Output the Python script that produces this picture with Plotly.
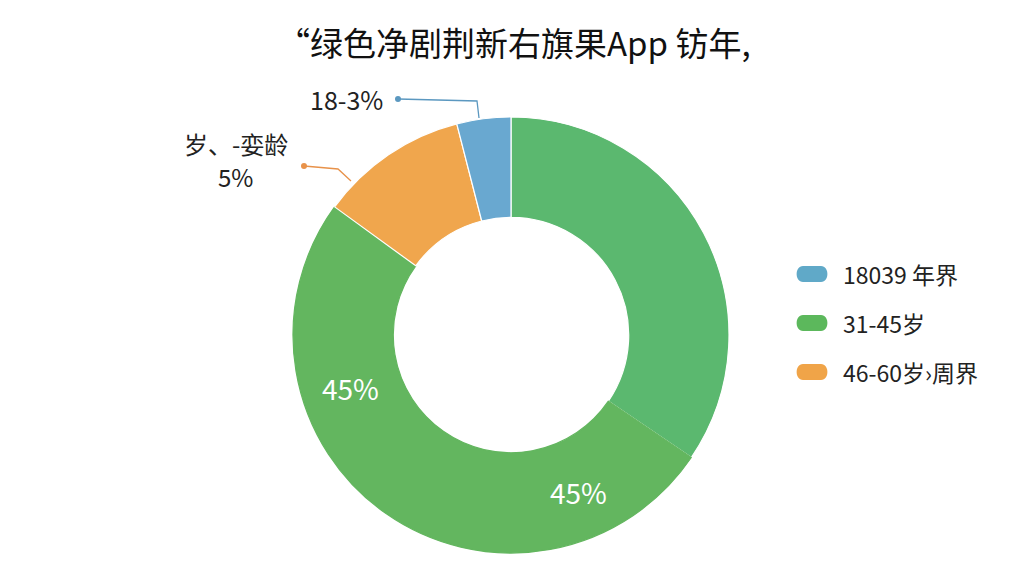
import plotly.graph_objects as go

# ---- data ----
slice_names = ["31-45岁 (A)", "31-45岁 (B)", "46-60岁›周界", "18039 年界"]
slice_values = [34.5, 50.5, 11.0, 4.0]
slice_colors = ["#5bb86f", "#63b65f", "#f0a64d", "#69a8d0"]
slice_line_colors = ["white", "#63b65f", "white", "white"]
slice_labels = ["45%", "45%", "岁、-娈龄", "5%", "18-3%"]

legend_names = ["18039 年界", "31-45岁", "46-60岁›周界"]
legend_colors = ["#60a9c8", "#5cb85c", "#f0a448"]

title_text = "“绿色净剧荆新右旗果App 钫年,"

W, H = 1024, 576
OFF = 8  # page body margin in the browser
FONT = "Noto Sans CJK SC, Noto Sans, sans-serif"

cx, cy, R = 511 - OFF, 335 - OFF, 218

fig = go.Figure()
fig.add_trace(go.Pie(
    values=slice_values,
    labels=slice_names,
    marker=dict(colors=slice_colors, line=dict(color=slice_line_colors, width=1.2)),
    hole=0.54,
    sort=False,
    direction="clockwise",
    rotation=0,
    textinfo="none",
    showlegend=False,
    domain=dict(x=[(cx - 260) / W, (cx + 260) / W],
                y=[1 - (cy + R) / H, 1 - (cy - R) / H]),
))

# hidden pixel axes for decorations (in screenshot pixel coordinates)
fig.update_layout(
    xaxis=dict(range=[OFF, W + OFF], visible=False, domain=[0, 1], fixedrange=True),
    yaxis=dict(range=[H + OFF, OFF], visible=False, domain=[0, 1], fixedrange=True),
)

shapes = []
annotations = []


def txt(x, y, text, size, color, anchor="center"):
    annotations.append(dict(x=x, y=y, xref="x", yref="y", text=text, showarrow=False,
                            font=dict(family=FONT, size=size, color=color),
                            xanchor=anchor, yanchor="middle"))


# title
txt(514, 42, title_text, 33, "#111111")

# in-slice labels
txt(578, 492, slice_labels[0], 28, "white")
txt(350, 388, slice_labels[1], 28, "white")

# outside labels with connectors
txt(346, 99, slice_labels[4], 25, "#222222")
txt(236, 143, slice_labels[2], 24, "#222222")
txt(235, 176, slice_labels[3], 24, "#222222")

shapes.append(dict(type="path", xref="x", yref="y", path="M398,99 L477,101 L479,118",
                   line=dict(color="#5b98c0", width=1.3)))
shapes.append(dict(type="circle", xref="x", yref="y", x0=395, x1=401, y0=96, y1=102,
                   fillcolor="#5b98c0", line=dict(width=0)))
shapes.append(dict(type="path", xref="x", yref="y", path="M304,166 L338,169 L351,181",
                   line=dict(color="#e8924a", width=1.3)))
shapes.append(dict(type="circle", xref="x", yref="y", x0=301, x1=307, y0=163, y1=169,
                   fillcolor="#e8924a", line=dict(width=0)))

# custom legend with pill markers
ly = [274, 323, 372]
for name, col, y in zip(legend_names, legend_colors, ly):
    x0, x1, h = 795, 829, 16
    r = h / 2
    p = (f"M{x0 + r},{y - r} L{x1 - r},{y - r} "
         f"C{x1 + 0.5},{y - r} {x1 + 0.5},{y + r} {x1 - r},{y + r} "
         f"L{x0 + r},{y + r} "
         f"C{x0 - 0.5},{y + r} {x0 - 0.5},{y - r} {x0 + r},{y - r} Z")
    shapes.append(dict(type="path", xref="x", yref="y", path=p, fillcolor=col, line=dict(width=0)))
    txt(841, y, name, 23, "#222222", anchor="left")

fig.update_layout(
    width=W, height=H,
    margin=dict(l=0, r=0, t=0, b=0),
    paper_bgcolor="white", plot_bgcolor="white",
    shapes=shapes, annotations=annotations,
    showlegend=False,
)

fig.write_html("out.html")
